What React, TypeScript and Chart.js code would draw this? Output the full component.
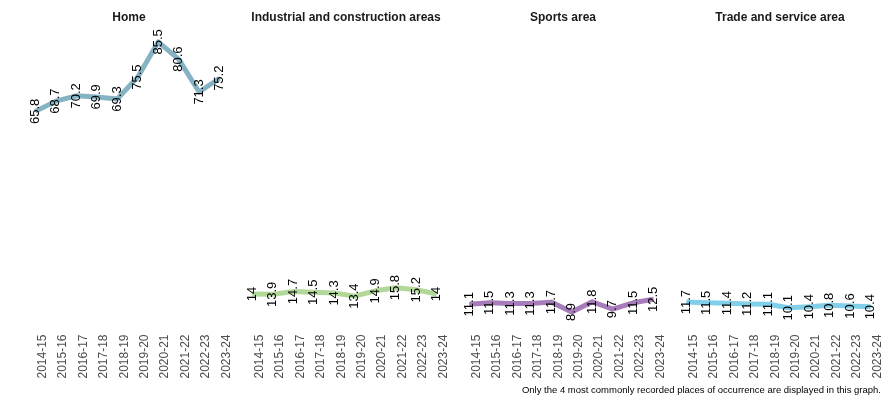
import React, { useEffect, useRef } from "react";
import { Chart, registerables } from "chart.js";

Chart.register(...registerables);

// Seasons shown on every panel's x axis
const seasons = [
  "2014-15", "2015-16", "2016-17", "2017-18", "2018-19",
  "2019-20", "2020-21", "2021-22", "2022-23", "2023-24",
];

// Share of recorded incidents per place of occurrence (%)
const home = [65.8, 68.7, 70.2, 69.9, 69.3, 75.5, 85.5, 80.6, 71.3, 75.2];
const industrial = [14, 13.9, 14.7, 14.5, 14.3, 13.4, 14.9, 15.8, 15.2, 14];
const sports = [11.1, 11.5, 11.3, 11.3, 11.7, 8.9, 11.8, 9.7, 11.5, 12.5];
const trade = [11.7, 11.5, 11.4, 11.2, 11.1, 10.1, 10.4, 10.8, 10.6, 10.4];

const places = [
  "Home",
  "Industrial and construction areas",
  "Sports area",
  "Trade and service area",
];
const series = [home, industrial, sports, trade];
const lineColors = ["#86b3c4", "#b1d799", "#a67cba", "#81cfe8"];

const caption =
  "Only the 4 most commonly recorded places of occurrence are displayed in this graph.";

const FONT = "'Liberation Sans', Arial, Helvetica, sans-serif";

// Shared y range across panels, padded by 5% on both ends
const allValues = series.flat();
const yLow = Math.min(...allValues);
const yHigh = Math.max(...allValues);
const yPad = (yHigh - yLow) * 0.05;

const PANEL_W = 212;
const PANEL_STEP = 217;
const FIRST_LEFT = 22.5;
const CANVAS_H = 400;
const PLOT_BOTTOM = 325.5;

// Writes each value vertically, centred on its point
function makeValueLabels(values: number[]) {
  return {
    id: "valueLabels",
    afterDatasetsDraw(chart: any) {
      const ctx = chart.ctx;
      const meta = chart.getDatasetMeta(0);
      ctx.save();
      ctx.font = `13px ${FONT}`;
      ctx.fillStyle = "#000000";
      ctx.textAlign = "center";
      ctx.textBaseline = "middle";
      meta.data.forEach((pt: any, i: number) => {
        ctx.save();
        ctx.translate(pt.x, pt.y);
        ctx.rotate(-Math.PI / 2);
        ctx.fillText(String(values[i]), 0, 0);
        ctx.restore();
      });
      ctx.restore();
    },
  };
}

function Panel({ title, values, color, left }: { title: string; values: number[]; color: string; left: number }) {
  const ref = useRef<HTMLCanvasElement | null>(null);

  useEffect(() => {
    if (!ref.current) return;
    const chart = new Chart(ref.current, {
      type: "line",
      data: {
        datasets: [
          {
            data: values.map((v, i) => ({ x: i, y: v })),
            borderColor: color,
            borderWidth: 5,
            borderCapStyle: "butt",
            borderJoinStyle: "round",
            pointRadius: 0,
            tension: 0,
            clip: false as any,
          },
        ],
      },
      options: {
        responsive: false,
        animation: false,
        layout: { padding: 0 },
        plugins: {
          legend: { display: false },
          tooltip: { enabled: false },
          title: {
            display: true,
            text: title,
            color: "#1a1a1a",
            font: { family: FONT, size: 12, weight: "bold" },
            padding: { top: 10, bottom: 4 },
          },
        },
        scales: {
          x: {
            type: "linear",
            min: -0.6,
            max: seasons.length - 1 + 0.6,
            grid: { display: false },
            border: { display: false },
            afterBuildTicks: (scale: any) => {
              scale.ticks = seasons.map((_, i) => ({ value: i }));
            },
            afterFit: (scale: any) => {
              scale.height = CANVAS_H - PLOT_BOTTOM;
            },
            ticks: {
              autoSkip: false,
              maxRotation: 90,
              minRotation: 90,
              padding: 1,
              labelOffset: 7,
              color: "#4d4d4d",
              font: { family: FONT, size: 12 },
              callback: (v: any) => seasons[v as number] ?? "",
            },
          },
          y: {
            display: false,
            min: yLow - yPad,
            max: yHigh + yPad,
          },
        },
      },
      plugins: [makeValueLabels(values)],
    });
    return () => chart.destroy();
  }, [title, values, color]);

  return (
    <canvas
      ref={ref}
      width={PANEL_W}
      height={CANVAS_H}
      style={{ position: "absolute", left, top: 0, width: PANEL_W, height: CANVAS_H }}
    />
  );
}

export default function App() {
  return (
    <div
      style={{
        position: "fixed",
        left: 0,
        top: 0,
        width: 890,
        height: 400,
        background: "#ffffff",
        overflow: "hidden",
      }}
    >
      {places.map((p, i) => (
        <Panel
          key={p}
          title={p}
          values={series[i]}
          color={lineColors[i]}
          left={FIRST_LEFT + i * PANEL_STEP}
        />
      ))}
      <div
        style={{
          position: "absolute",
          right: 9,
          top: 385,
          fontFamily: FONT,
          fontSize: 9.5,
          lineHeight: "10px",
          color: "#000000",
          whiteSpace: "nowrap",
        }}
      >
        {caption}
      </div>
    </div>
  );
}
